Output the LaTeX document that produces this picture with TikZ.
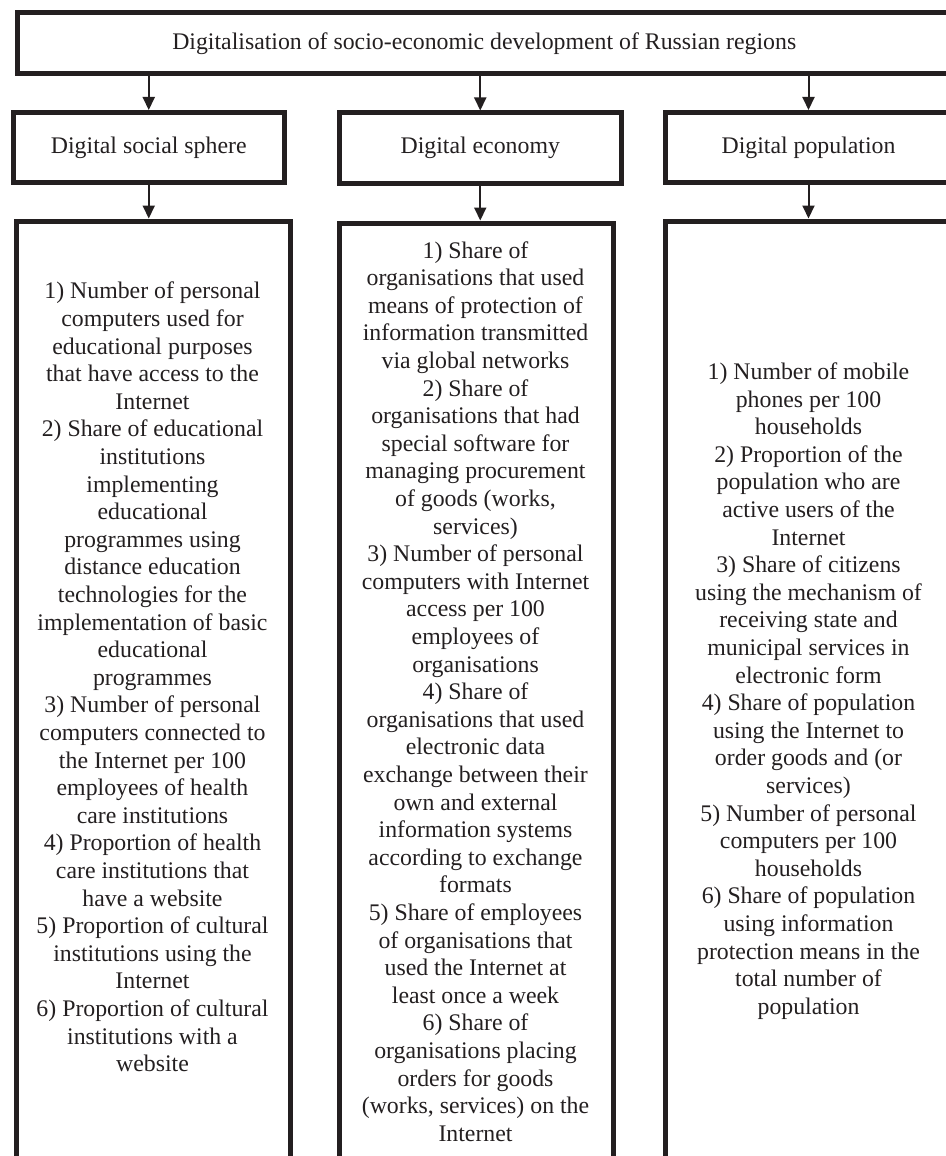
\documentclass[tikz,border=0pt]{standalone}
\usepackage{fontspec}
\setmainfont{Liberation Serif}
\usetikzlibrary{arrows.meta}
\definecolor{ink}{RGB}{35,31,32}
\begin{document}
\begin{tikzpicture}[
    x = 0.5pt, y = -0.5pt,
    frame/.style = {draw = ink, text = ink, line width = 2.5pt, inner sep = 0pt,
                    align = center, font = \fontsize{11.9}{13.8}\selectfont},
    txt/.style = {text = ink, align = center, inner sep = 0pt,
                  font = \fontsize{11.9}{13.8}\selectfont},
    down/.style = {draw = ink, line width = 1pt, -{Triangle[length = 6.5pt, width = 6pt]}}
  ]
  \useasboundingbox (0, 0) rectangle (946, 1156);
  \clip (0, 0) rectangle (946, 1156);
  % top level
  \node[frame, minimum width = 466.75pt, minimum height = 30.25pt] (top) at (484.25, 43.25)
    {Digitalisation of socio-economic development of Russian regions};
  % the three spheres
  \node[frame, minimum width = 135.75pt, minimum height = 35pt] (social) at (148.75, 147.5) {Digital social sphere};
  \node[frame, minimum width = 141.25pt, minimum height = 35pt] (economy) at (480.25, 148) {Digital economy};
  \node[frame, minimum width = 143.5pt,  minimum height = 35pt] (population) at (808.5, 147.5) {Digital population};
  % frames of the indicators
  \node[frame, minimum width = 137pt,   minimum height = 479.5pt] (socbox) at (153, 700.5) {};
  \node[frame, minimum width = 137pt,   minimum height = 478.5pt] (ecobox) at (476, 701.5) {};
  \node[frame, minimum width = 143.5pt, minimum height = 479.5pt] (popbox) at (808.5, 700.5) {};
  % indicators
  \node[txt] (socind) at (152.5, 677) {1) Number of personal\\ computers used for\\ educational purposes\\
    that have access to the\\ Internet\\ 2) Share of educational\\ institutions\\ implementing\\
    educational\\ programmes using\\ distance education\\ technologies for the\\
    implementation of basic\\ educational\\ programmes\\ 3) Number of personal\\
    computers connected to\\ the Internet per 100\\ employees of health\\ care institutions\\
    4) Proportion of health\\ care institutions that\\ have a website\\
    5) Proportion of cultural\\ institutions using the\\ Internet\\
    6) Proportion of cultural\\ institutions with a\\ website};
  \node[txt] (ecoind) at (475.5, 691.5) {1) Share of\\ organisations that used\\ means of protection of\\
    information transmitted\\ via global networks\\ 2) Share of\\ organisations that had\\
    special software for\\ managing procurement\\ of goods (works,\\ services)\\
    3) Number of personal\\ computers with Internet\\ access per 100\\ employees of\\ organisations\\
    4) Share of\\ organisations that used\\ electronic data\\ exchange between their\\
    own and external\\ information systems\\ according to exchange\\ formats\\
    5) Share of employees\\ of organisations that\\ used the Internet at\\ least once a week\\
    6) Share of\\ organisations placing\\ orders for goods\\ (works, services) on the\\ Internet};
  \node[txt] (popind) at (808.5, 691) {1) Number of mobile\\ phones per 100\\ households\\
    2) Proportion of the\\ population who are\\ active users of the\\ Internet\\
    3) Share of citizens\\ using the mechanism of\\ receiving state and\\ municipal services in\\
    electronic form\\ 4) Share of population\\ using the Internet to\\ order goods and (or\\ services)\\
    5) Number of personal\\ computers per 100\\ households\\ 6) Share of population\\
    using information\\ protection means in the\\ total number of\\ population};
  % arrows
  \draw[down] (social.north |- top.south) -- (social.north);
  \draw[down] (economy.north |- top.south) -- (economy.north);
  \draw[down] (population.north |- top.south) -- (population.north);
  \draw[down] (social.south) -- (social.south |- socbox.north);
  \draw[down] (economy.south) -- (economy.south |- ecobox.north);
  \draw[down] (population.south) -- (population.south |- popbox.north);
\end{tikzpicture}
\end{document}
